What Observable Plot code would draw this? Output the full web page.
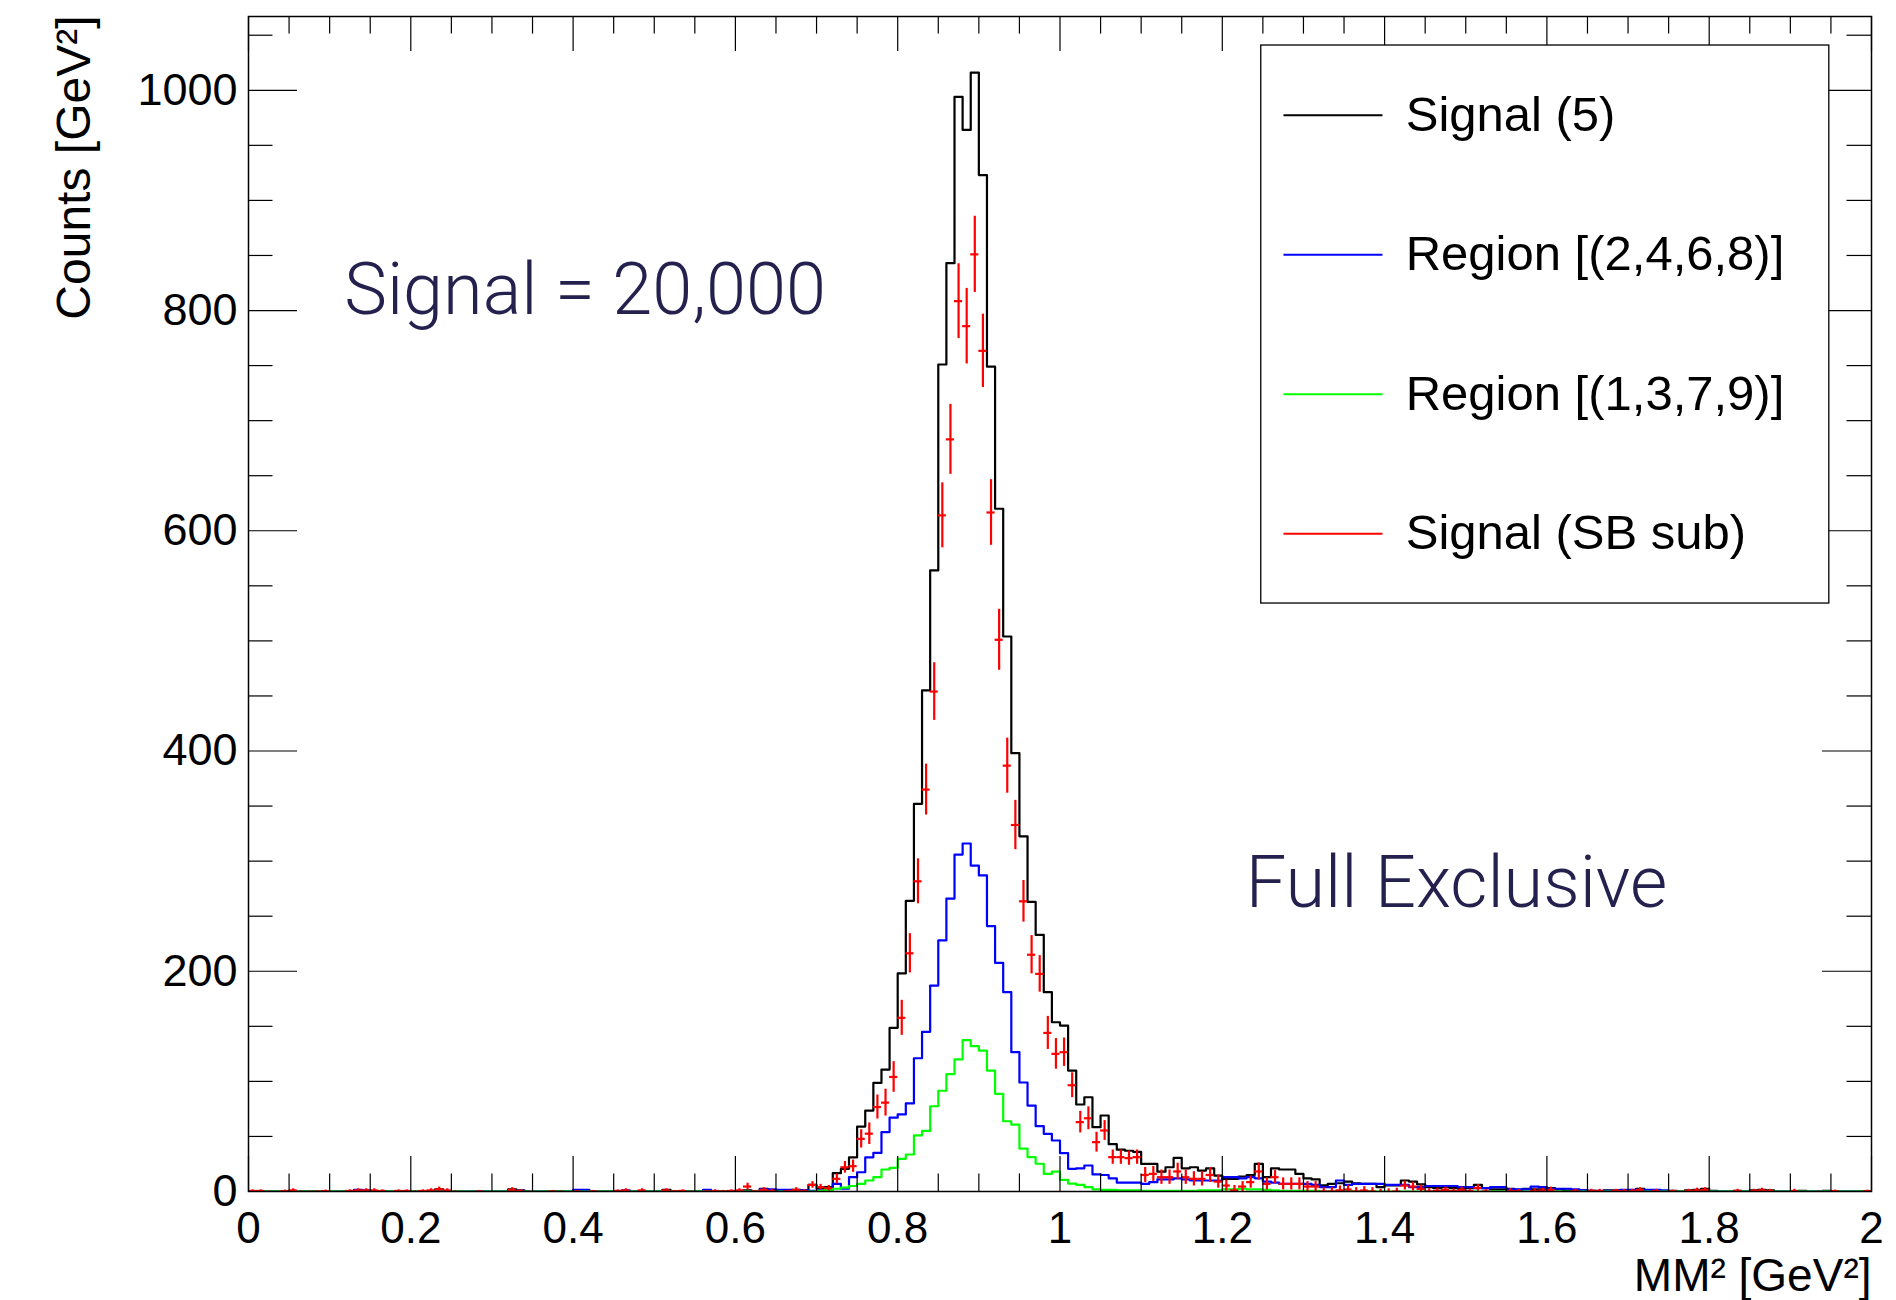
<!DOCTYPE html>
<html>
<head>
<meta charset="utf-8">
<script src="https://cdn.jsdelivr.net/npm/d3@7"></script>
<script src="https://cdn.jsdelivr.net/npm/@observablehq/plot@0.6"></script>
<style>
  body { margin: 0; background: #ffffff; }
  #chart svg { display: block; }
</style>
</head>
<body>
<div id="chart"></div>
<script>
// ---------------- DATA ----------------
const xMin = 0;
const binWidth = 0.01;   // 200 bins from 0 to 2 GeV^2

// Signal (5)  (black)
const signal5 = [
  0,0,0,0,0,0,0,0,0,0,
  0,0,0,1,0,0,0,0,0,0,
  0,0,0,2,0,0,0,0,0,0,
  0,0,2,1,0,0,0,0,0,0,
  1,0,0,0,0,0,0,0,0,0,
  0,1.5,0,0,0,0,1,0,0,0,
  0,1,0,2.5,1,1,1,1.5,1,6,
  3,4,16.6,20.6,31,59,73.5,98.6,110.7,148.6,
  198,264,352,455,564,751,843,994,964,1016,
  923,749,620,504,398,322.5,263,233,181,153.7,
  150.7,109.8,79,85.6,58.4,69,43,38,37,36,
  25,25,18,22,30.5,21,22,19,21,14.5,
  11.5,11.5,13.6,15,25,13,21,20,20,16,
  12,11,5.5,7,7.5,9,7.5,7,7,4,
  5.5,5.5,10,9,6.5,4,3,4,3,3,
  3,6,3,2,2,2.5,1.5,2.5,2,2,
  3,2,1,1,1,0.5,0,1,1,1,
  1,2.5,1,0.5,0,0.5,0,1,1.5,2.5,
  0.5,0,0,0.5,0,1,1.5,1,0,0,
  0,0.5,0,0,0.5,0,0,0,0,0
];

// Region [(2,4,6,8)]  (blue)
const region2468 = [
  0,0,0,0,0,0,0,0,0,0,
  0,0,0,1.5,1,0,0,0,0,0,
  0,0,0,0.5,0,0,0,0,0,0,
  0,0,0,0.5,0,0,0,0,0,0,
  1.5,1.5,0,0,0,0,1,0,0,0,
  0,0,0,0,0,0,1.5,0,0,0,
  0,0,0,2,2,1.5,1.5,1,1,0.5,
  1,1.5,7,2.5,13,17.5,31,35,54,67,
  70,80,121,145,187,228,266,306,316,296,
  287,241,207.6,181,126.5,99,78,59.3,52.4,46.3,
  34.8,20.6,21,23.6,15.5,15,12,8,8,8,
  7,8.5,11,11,12,11,10,10,10,10,
  13,13,12,13,12,9,8,7,7,7,
  7,6,4,4,10,6,7,7,7,7,
  6,6,6,4,4,5,5,5,5,4,
  4,3,3,4,4,2,2,2,4.5,4,
  2.5,2.5,2.5,2,1,0.5,0.5,0.5,0.5,1.5,
  1.5,1.5,1.5,1.5,1,0,0,0,0,0,
  0,0,0,0,0,0,0,0,0,0,
  0,0,0,0,0,0,0,0,0,0
];

// Region [(1,3,7,9)]  (green)
const region1379 = [
  0,0,0,0,0,0,0,0,0,0,
  0,0,0,0,0,0,0,0,0,0,
  0,0,0,0,0,0,0,0,0,0,
  0,0,0,0,0,0,0,0,0,0,
  0,0,0,0,0,0,0,0,0,0,
  0,0,0,0,0,0,0,0,0,0,
  0,0,0,0,0,0,0,0,0,0,
  0.5,1.5,2.5,3.5,5,7,10,13,20,21.5,
  29.7,33.6,51,55,77.4,91.5,106.5,120,137.5,132,
  128,109.8,88.7,63.8,60.8,39,31.2,25.2,16,18,
  10.5,7.2,6,4,2,1.5,1.5,1,1,1,
  0.5,0.5,0.5,0.5,0.5,0.5,0.5,1,1,1,
  2,2,2.5,2,2,1.5,1,0.5,0.5,0.5,
  0.5,0.5,0,0,0.5,0.5,0,0,0,0,
  0,0,0,0,0,0,0,0,0,0,
  0,0,0,0,0,0,0,0,0,0,
  0,0,0,0,0,0,0,0,0,0,
  0,0,0,0,0,0,0,0,0,0,
  0,0,0,0,0,0,0,0,0,0,
  0,0,0,0,0,0,0,0,0,0
];

// Signal (SB sub)  (red points) : value and error per bin (null = not drawn)
const sbSub = [
  0.5,0.5,-0.5,null,0.3,1,-0.5,-0.5,-0.3,0.3,
  null,null,0.5,1,1,1,0.5,null,0.5,0.5,
  -0.5,0.5,1,2,1,-0.5,null,null,0,null,
  null,null,1.5,0.5,-0.5,null,null,0,-0.5,null,
  0,null,0,null,null,0.5,1,null,1,null,
  null,1,0,0.5,-0.5,null,0,0.5,0,0.5,
  1,4.5,0,1.5,0.5,null,0.3,1.5,0.5,6,
  4,3,11.5,22,23,47.8,52.5,76.7,80.7,104,
  157.7,216.3,281.7,365,454,614,683,808.5,785.8,851,
  763.4,616.6,501,386.7,332.8,263.5,215,197.6,144,125,
  126.5,96.5,63,66.5,44.8,55.4,31.2,31.2,30.3,31.2,
  15,16,13,13,18.2,13,11.5,11.5,15,9,
  5.4,1,4.5,8.5,18.2,6.9,13,6.9,6.9,6.9,
  4.5,4.5,0,0,1,1.8,0,0.9,0,-1,
  -0.6,0,5.4,4.5,2.4,0,0.5,1.5,0.3,1.5,
  0.3,3.3,0,null,null,0.5,0.3,null,0.5,1,
  1.5,null,null,0.5,null,0.5,0.5,null,0.5,0.3,
  0.5,1.5,null,0.5,null,0.3,null,0.5,1,1.5,
  null,null,null,0.5,null,0.5,1,0.5,null,null,
  0.5,null,null,-1,null,0.3,null,null,null,0.3
];
const sbSubErr = [
  1,1,1,null,1,1.5,1,1,1,1,
  null,null,1,1.5,1.5,1.5,1,null,1,1,
  1,1,1.5,2,1.5,1,null,null,1,null,
  null,null,2,1,1,null,null,1,1,null,
  1,null,1,null,null,1,1.5,null,1.5,null,
  null,1.5,1,1,1,null,1,1,1,1,
  1.5,3,1,2,1.5,null,1,2,1,3,
  2.5,2.5,4.5,5.3,5.6,8.3,9.8,10.9,12.2,13.9,
  15.9,17.8,20.4,23.1,26.2,29.5,31.8,34,34.3,34.6,
  33.3,29.8,27.7,25,22.4,18.9,17.4,16.6,15,13.9,
  12.9,11.3,9.8,10.4,9,9,6.5,6.5,6.5,6.5,
  6.8,6.8,6.5,6.5,7.5,6.5,6.5,6.5,6.8,6,
  5,4.5,4.5,5.5,7.8,5.5,6,5.5,5.5,5.5,
  4.5,4.5,3.5,3.5,4,4,3.5,3.5,3.5,3,
  3,3,4,4,3.5,2.5,2.5,2.5,2,2.5,
  2,3,2,null,null,2,1.5,null,2,2,
  2.5,null,null,1.5,null,1.5,1.5,null,1.5,1.5,
  1.5,2,null,1.5,null,1,null,1.5,2,2,
  null,null,null,1.5,null,1.5,2,1.5,null,null,
  1.5,null,null,1.5,null,1,null,null,null,1
];

// Axis ticks and labels
const xTickValues = [0, 0.2, 0.4, 0.6, 0.8, 1, 1.2, 1.4, 1.6, 1.8, 2];
const xTickLabels = ["0", "0.2", "0.4", "0.6", "0.8", "1", "1.2", "1.4", "1.6", "1.8", "2"];
const yTickValues = [0, 200, 400, 600, 800, 1000];
const yTickLabels = ["0", "200", "400", "600", "800", "1000"];
const xTitle = "MM\u00b2 [GeV\u00b2]";
const yTitle = "Counts [GeV\u00b2]";

// Legend
const legendLabels = ["Signal (5)", "Region [(2,4,6,8)]", "Region [(1,3,7,9)]", "Signal (SB sub)"];
const legendColors = ["#000000", "#0000ff", "#00ff00", "#ff0000"];

// Annotations
const annotations = [
  {text: "Signal = 20,000", x: 0.118, y: 797},
  {text: "Full Exclusive", x: 1.229, y: 258}
];

// ---------------- LAYOUT ----------------
const W = 1896, H = 1300;
const mL = 248, mR = 25, mT = 16, mB = 109;
const innerW = W - mL - mR, innerH = H - mT - mB;
const xDomain = [0, 2], yDomain = [0, 1067];

const nBins = signal5.length;
function stepPoints(vals) {
  const pts = vals.map((v, i) => ({x: xMin + i * binWidth, y: v}));
  pts.push({x: xMin + nBins * binWidth, y: vals[nBins - 1]});
  return pts;
}
const redPts = sbSub.map((v, i) => ({
  c: xMin + (i + 0.5) * binWidth,
  x1: xMin + i * binWidth,
  x2: xMin + (i + 1) * binWidth,
  v, e: sbSubErr[i]
})).filter(d => d.v != null);

// minor ticks
const xMinor = d3.range(0, 41).map(k => k * 0.05).filter(v => Math.abs(v / 0.2 - Math.round(v / 0.2)) > 1e-6);
const yMinor = d3.range(0, 22).map(k => k * 50).filter(v => v % 200 !== 0);
const xMajLen = 35, xMinLen = 17.6, yMajLen = 49, yMinLen = 24.5;

// legend geometry (fractions of the frame, ROOT-NDC-like)
const lgL = 0.624, lgR = 0.974, lgT = 0.0247, lgB = 0.4996;
const fx = f => xDomain[0] + f * (xDomain[1] - xDomain[0]);
const fy = f => yDomain[1] - f * (yDomain[1] - yDomain[0]);
const legendRows = legendLabels.map((label, k) => ({
  label, color: legendColors[k],
  y: fy(lgT + (k + 0.5) * (lgB - lgT) / legendLabels.length)
}));

const ink = "#000000";
const annColor = "#25214f";
const lw = 2.2;

const chart = Plot.plot({
  width: W, height: H,
  marginLeft: mL, marginRight: mR, marginTop: mT, marginBottom: mB,
  x: {domain: xDomain},
  y: {domain: yDomain},
  style: {fontFamily: "'Liberation Sans', Arial, Helvetica, sans-serif", background: "#ffffff", color: ink},
  marks: [
    // histograms
    Plot.line(stepPoints(signal5), {x: "x", y: "y", curve: "step-after", stroke: "#000000", strokeWidth: lw, clip: true}),
    Plot.line(stepPoints(region2468), {x: "x", y: "y", curve: "step-after", stroke: "#0000ff", strokeWidth: lw, clip: true}),
    Plot.line(stepPoints(region1379), {x: "x", y: "y", curve: "step-after", stroke: "#00ff00", strokeWidth: lw, clip: true}),
    // SB-subtracted points with error bars
    Plot.ruleX(redPts, {x: "c", y1: d => d.v - d.e, y2: d => d.v + d.e, stroke: "#ff0000", strokeWidth: lw, clip: true}),
    Plot.ruleY(redPts, {y: "v", x1: "x1", x2: "x2", stroke: "#ff0000", strokeWidth: lw, clip: true}),

    // inward ticks (ROOT style): bottom & top
    Plot.tickX(xMinor, {x: d => d, insetTop: innerH - xMinLen, stroke: ink, strokeWidth: 1.2}),
    Plot.tickX(xMinor, {x: d => d, insetBottom: innerH - xMinLen, stroke: ink, strokeWidth: 1.2}),
    Plot.tickX(xTickValues, {x: d => d, insetTop: innerH - xMajLen, stroke: ink, strokeWidth: 1.2}),
    Plot.tickX(xTickValues, {x: d => d, insetBottom: innerH - xMajLen, stroke: ink, strokeWidth: 1.2}),
    // left & right
    Plot.tickY(yMinor, {y: d => d, insetRight: innerW - yMinLen, stroke: ink, strokeWidth: 1.2}),
    Plot.tickY(yMinor, {y: d => d, insetLeft: innerW - yMinLen, stroke: ink, strokeWidth: 1.2}),
    Plot.tickY(yTickValues, {y: d => d, insetRight: innerW - yMajLen, stroke: ink, strokeWidth: 1.2}),
    Plot.tickY(yTickValues, {y: d => d, insetLeft: innerW - yMajLen, stroke: ink, strokeWidth: 1.2}),

    Plot.frame({stroke: ink, strokeWidth: 1.5}),

    // axes labels
    Plot.axisX({ticks: xTickValues, tickFormat: d => xTickLabels[xTickValues.indexOf(d)], tickSize: 0, tickPadding: 20, fontSize: 44, label: null}),
    Plot.axisY({ticks: yTickValues, tickFormat: d => yTickLabels[yTickValues.indexOf(d)], tickSize: 0, tickPadding: 11, fontSize: 45, label: null}),
    Plot.text([yTitle], {text: d => d, frameAnchor: "top-left", dx: 89 - mL, dy: 15 - mT, rotate: -90, textAnchor: "end", lineAnchor: "bottom", fontSize: 48, fill: ink}),
    Plot.text([xTitle], {text: d => d, frameAnchor: "bottom-right", dx: 0, dy: 1290 - (H - mB), textAnchor: "end", lineAnchor: "bottom", fontSize: 46, fill: ink}),

    // annotations
    Plot.text(annotations, {x: "x", y: "y", text: "text", textAnchor: "start", lineAnchor: "bottom", fontSize: 72, fontWeight: 300, fontFamily: "Roboto, 'Open Sans', sans-serif", fill: annColor}),

    // legend
    Plot.rect([0], {x1: fx(lgL), x2: fx(lgR), y1: fy(lgT), y2: fy(lgB), fill: "#ffffff", stroke: ink, strokeWidth: 1.3}),
    Plot.ruleY(legendRows, {y: "y", x1: fx(0.638), x2: fx(0.699), stroke: "color", strokeWidth: 2}),
    Plot.text(legendRows, {x: fx(0.713), y: "y", text: "label", textAnchor: "start", fontSize: 49, fill: ink})
  ]
});

document.getElementById("chart").append(chart);
</script>
</body>
</html>
